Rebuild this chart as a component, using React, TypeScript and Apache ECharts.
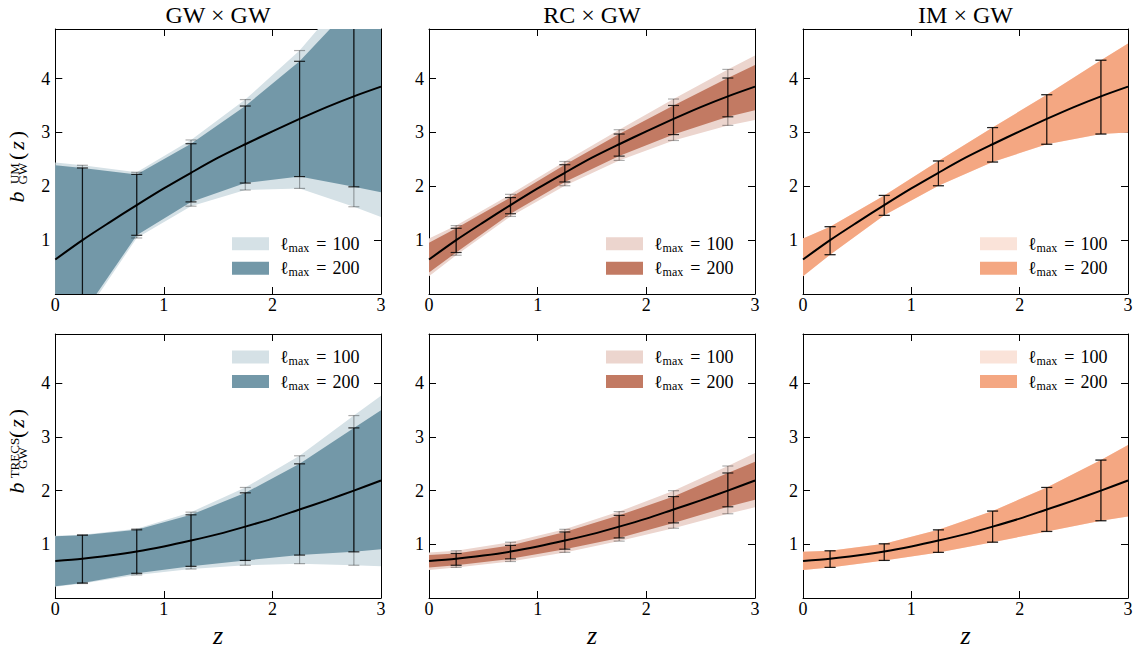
import React, { useEffect, useRef } from "react";
import * as echarts from "echarts";

const SERIF = '"Liberation Serif", "DejaVu Serif", serif';

const panelTitles = ["GW × GW", "RC × GW", "IM × GW"];
const rowTracers = ["UM", "TRECS"];
const legendLabels = ["100", "200"];
const xTicks = [0, 1, 2, 3];
const yTicks = [1, 2, 3, 4];

// fiducial bias curves
const zFine = [0, 0.25, 0.5, 0.75, 1, 1.25, 1.5, 1.75, 2, 2.25, 2.5, 2.75, 3];
const biasUM = [0.64, 1.0, 1.33, 1.65, 1.96, 2.25, 2.53, 2.78, 3.02, 3.25, 3.47, 3.67, 3.85];
const biasTRECS = [0.69, 0.73, 0.79, 0.865, 0.96, 1.07, 1.19, 1.33, 1.48, 1.65, 1.82, 2.0, 2.19];

// band edges (error bars sit at z = 0.25 ... 2.75)
const zBand = [0, 0.25, 0.75, 1.25, 1.75, 2.25, 2.75, 3];

// GW x GW, UM
const gwUmLo100 = [-1.2, -0.45, 1.04, 1.63, 1.93, 1.96, 1.62, 1.43];
const gwUmHi100 = [2.44, 2.39, 2.26, 2.86, 3.61, 4.52, 5.7, 6.2];
const gwUmLo200 = [-1.1, -0.38, 1.09, 1.71, 2.06, 2.18, 1.99, 1.89];
const gwUmHi200 = [2.39, 2.34, 2.22, 2.79, 3.49, 4.32, 5.39, 5.8];
// RC x GW, UM
const rcUmLo100 = [0.33, 0.72, 1.44, 2.01, 2.48, 2.85, 3.13, 3.23];
const rcUmHi100 = [1.03, 1.27, 1.85, 2.46, 3.05, 3.62, 4.17, 4.43];
const rcUmLo200 = [0.4, 0.77, 1.49, 2.08, 2.56, 2.96, 3.29, 3.41];
const rcUmHi200 = [0.95, 1.22, 1.79, 2.4, 2.97, 3.5, 4.01, 4.25];
// IM x GW, UM
const imUmLo100 = [0.33, 0.73, 1.46, 2.01, 2.45, 2.78, 2.97, 3.0];
const imUmHi100 = [1.03, 1.25, 1.83, 2.47, 3.09, 3.7, 4.34, 4.65];
const imUmLo200 = [0.33, 0.73, 1.46, 2.01, 2.45, 2.78, 2.97, 3.0];
const imUmHi200 = [1.03, 1.25, 1.83, 2.47, 3.09, 3.7, 4.34, 4.65];
// GW x GW, TRECS
const gwTrLo100 = [0.21, 0.27, 0.43, 0.54, 0.61, 0.64, 0.61, 0.59];
const gwTrHi100 = [1.16, 1.18, 1.29, 1.6, 2.06, 2.65, 3.4, 3.77];
const gwTrLo200 = [0.22, 0.28, 0.46, 0.59, 0.7, 0.8, 0.86, 0.91];
const gwTrHi200 = [1.15, 1.17, 1.27, 1.55, 1.96, 2.5, 3.17, 3.5];
// RC x GW, TRECS
const rcTrLo100 = [0.52, 0.57, 0.68, 0.85, 1.06, 1.3, 1.57, 1.69];
const rcTrHi100 = [0.85, 0.88, 1.04, 1.28, 1.61, 2.0, 2.46, 2.7];
const rcTrLo200 = [0.57, 0.61, 0.73, 0.91, 1.12, 1.4, 1.7, 1.83];
const rcTrHi200 = [0.8, 0.83, 0.98, 1.23, 1.54, 1.89, 2.33, 2.54];
// IM x GW, TRECS
const imTrLo100 = [0.52, 0.57, 0.7, 0.85, 1.04, 1.24, 1.44, 1.52];
const imTrHi100 = [0.86, 0.88, 1.01, 1.27, 1.62, 2.06, 2.57, 2.85];
const imTrLo200 = [0.52, 0.57, 0.7, 0.85, 1.04, 1.24, 1.44, 1.52];
const imTrHi200 = [0.86, 0.88, 1.01, 1.27, 1.62, 2.06, 2.57, 2.85];

const lightColors = ["#d5e1e6", "#ecd5ce", "#fae3d9"];
const darkColors = ["#7398a8", "#c27a63", "#f4a782"];

const panels = [
  { bias: biasUM, b100: [gwUmLo100, gwUmHi100], b200: [gwUmLo200, gwUmHi200] },
  { bias: biasUM, b100: [rcUmLo100, rcUmHi100], b200: [rcUmLo200, rcUmHi200] },
  { bias: biasUM, b100: [imUmLo100, imUmHi100], b200: [imUmLo200, imUmHi200] },
  { bias: biasTRECS, b100: [gwTrLo100, gwTrHi100], b200: [gwTrLo200, gwTrHi200] },
  { bias: biasTRECS, b100: [rcTrLo100, rcTrHi100], b200: [rcTrLo200, rcTrHi200] },
  { bias: biasTRECS, b100: [imTrLo100, imTrHi100], b200: [imTrLo200, imTrHi200] },
];

const colLeft = [55, 429, 803];
const colWidth = [326, 326, 325];
const rowTop = [29, 334];
const rowHeight = [265, 264];

// y-axis title b^{tracer}_{GW}(z) as rich text (sup and sub share one slot)
function yNameRich(r: number) {
  const slot = r === 0 ? 13.5 : 20;
  const lead = r === 0 ? 0 : 25;
  const trail = r === 0 ? 15 : 0;
  const base = { fontFamily: SERIF, color: "#000", align: "center", verticalAlign: "middle" };
  return {
    b: { ...base, fontSize: 22, fontStyle: "italic", lineHeight: 30, width: 20, padding: [0, 0, 0, lead] },
    up: { ...base, fontSize: 13, lineHeight: 13, width: 0.01, padding: [0, 0, 3.4, slot] },
    dn: { ...base, fontSize: 13, lineHeight: 13, width: 0.01, padding: [13.6, slot, 0, 0] },
    lp: { ...base, fontSize: 22, lineHeight: 30 },
    z: { ...base, fontSize: 22, fontStyle: "italic", lineHeight: 30, padding: [0, 3, 0, 3] },
    rp: { ...base, fontSize: 22, lineHeight: 30, padding: [0, trail, 0, 0] },
  };
}

function buildOption() {
  const grid: any[] = [];
  const xAxis: any[] = [];
  const yAxis: any[] = [];
  const series: any[] = [];
  const legend: any[] = [];
  const graphic: any[] = [];

  const axisLine = { show: true, onZero: false, lineStyle: { color: "#000", width: 1 } };
  const axisTick = { show: true, inside: true, length: 7, lineStyle: { color: "#000", width: 1 } };
  const labelStyle = { fontFamily: SERIF, fontSize: 18, color: "#000" };

  const topAxes: any[] = [];
  const rightAxes: any[] = [];

  for (let p = 0; p < 6; p++) {
    const r = Math.floor(p / 3);
    const c = p % 3;
    grid.push({ left: colLeft[c], top: rowTop[r], width: colWidth[c], height: rowHeight[r] });
    const xBase = {
      type: "value", gridIndex: p, min: xTicks[0], max: xTicks[xTicks.length - 1], interval: 1,
      axisLine, axisTick, splitLine: { show: false },
    };
    xAxis.push({
      ...xBase, position: "bottom",
      axisLabel: { ...labelStyle, margin: 2 },
      name: r === 1 ? "z" : "", nameLocation: "middle", nameGap: 24,
      nameTextStyle: { fontFamily: SERIF, fontStyle: "italic", fontSize: 26, color: "#000" },
    });
    topAxes.push({ ...xBase, position: "top", axisLabel: { show: false } });
    const yBase = {
      type: "value", gridIndex: p, min: 0, max: 4.92, interval: 1,
      axisLine, axisTick, splitLine: { show: false },
    };
    const yName = c === 0 ? `{b|b}{up|${rowTracers[r]}}{dn|GW}{lp|(}{z|z}{rp|)}` : "";
    yAxis.push({
      ...yBase, position: "left",
      axisLabel: {
        ...labelStyle, margin: 5,
        formatter: (v: number) => (yTicks.indexOf(v) >= 0 ? String(v) : ""),
      },
      name: yName, nameLocation: "middle", nameRotate: 90, nameGap: 24.3,
      nameTextStyle: { fontFamily: SERIF, fontSize: 22, color: "#000", lineHeight: 30, rich: yNameRich(r) },
    });
    rightAxes.push({ ...yBase, position: "right", axisLabel: { show: false } });

    const pd = panels[p];
    const bands = [pd.b100, pd.b200];
    const bandColors = [lightColors[c], darkColors[c]];
    bands.forEach((b, k) => {
      const [lo, hi] = b;
      const color = bandColors[k];
      series.push({
        type: "custom", name: `ℓmax = ${legendLabels[k]}`, xAxisIndex: p, yAxisIndex: p,
        clip: true, silent: true, z: 1, itemStyle: { color },
        data: zBand.map((z, i) => [z, lo[i], hi[i]]),
        encode: { x: 0, y: [1, 2] },
        renderItem: (params: any, api: any) => {
          if (params.dataIndex !== 0) return;
          const upper = zBand.map((z, i) => api.coord([z, hi[i]]));
          const lower = zBand.map((z, i) => api.coord([z, lo[i]])).reverse();
          return { type: "polygon", shape: { points: upper.concat(lower) }, style: { fill: color } };
        },
      });
    });

    const barColors = ["rgba(0,0,0,0.32)", "rgba(0,0,0,0.8)"];
    bands.forEach((b, k) => {
      const [lo, hi] = b;
      const col = barColors[k];
      series.push({
        type: "custom", xAxisIndex: p, yAxisIndex: p, clip: true, silent: true, z: 3,
        data: zBand.slice(1, 7).map((z, i) => [z, lo[i + 1], hi[i + 1]]),
        encode: { x: 0, y: [1, 2] },
        renderItem: (params: any, api: any) => {
          const z = api.value(0);
          const a = api.coord([z, api.value(1)]);
          const bb = api.coord([z, api.value(2)]);
          const w = 5.5;
          const st = { stroke: col, lineWidth: 1.2 };
          return {
            type: "group",
            children: [
              { type: "line", shape: { x1: a[0], y1: a[1], x2: bb[0], y2: bb[1] }, style: st },
              { type: "line", shape: { x1: a[0] - w, y1: a[1], x2: a[0] + w, y2: a[1] }, style: st },
              { type: "line", shape: { x1: bb[0] - w, y1: bb[1], x2: bb[0] + w, y2: bb[1] }, style: st },
            ],
          };
        },
      });
    });

    series.push({
      type: "line", xAxisIndex: p, yAxisIndex: p, smooth: 0.3, symbol: "none", silent: true,
      data: zFine.map((z, i) => [z, pd.bias[i]]),
      lineStyle: { color: "#000", width: 2 }, z: 4,
    });

    legend.push({
      orient: "vertical", left: colLeft[c] + 177, top: r === 0 ? 232.85 : 346,
      padding: 0, itemWidth: 37, itemHeight: 13, itemGap: 2.5, selectedMode: false,
      data: legendLabels.map((l, k) => ({
        name: `ℓmax = ${l}`, icon: "rect",
        itemStyle: { color: bandColors[k], borderWidth: 0 },
      })),
      formatter: (name: string) => `{l|ℓ}{m|max}{e|=}{n|${name.split("= ")[1]}}`,
      textStyle: {
        color: "#000", fontFamily: SERIF, fontSize: 18, lineHeight: 22,
        rich: {
          l: { fontFamily: SERIF, fontSize: 18, lineHeight: 22, padding: [0, 0, 0, 6], color: "#000" },
          m: { fontFamily: SERIF, fontSize: 12, lineHeight: 12, verticalAlign: "bottom", padding: [0, 0, 1, 0], color: "#000" },
          e: { fontFamily: SERIF, fontSize: 18, lineHeight: 22, padding: [0, 6, 0, 7], color: "#000" },
          n: { fontFamily: SERIF, fontSize: 18, lineHeight: 22, color: "#000" },
        },
      },
    });
  }

  xAxis.push(...topAxes);
  yAxis.push(...rightAxes);

  // column titles
  for (let c = 0; c < 3; c++) {
    graphic.push({
      type: "text", x: colLeft[c] + colWidth[c] / 2, y: 15,
      style: { text: panelTitles[c], fontFamily: SERIF, fontSize: 24, fill: "#000", align: "center", verticalAlign: "middle" },
    });
  }

  return {
    animation: false,
    backgroundColor: "#fff",
    grid, xAxis, yAxis, series, legend, graphic,
  };
}

export default function App() {
  const ref = useRef<HTMLDivElement>(null);
  useEffect(() => {
    if (!ref.current) return;
    const chart = echarts.init(ref.current, undefined, { renderer: "svg" });
    chart.setOption(buildOption() as any);
    return () => chart.dispose();
  }, []);
  return (
    <div
      ref={ref}
      style={{ position: "fixed", left: 0, top: 0, width: 1142, height: 649, background: "#fff" }}
    />
  );
}
